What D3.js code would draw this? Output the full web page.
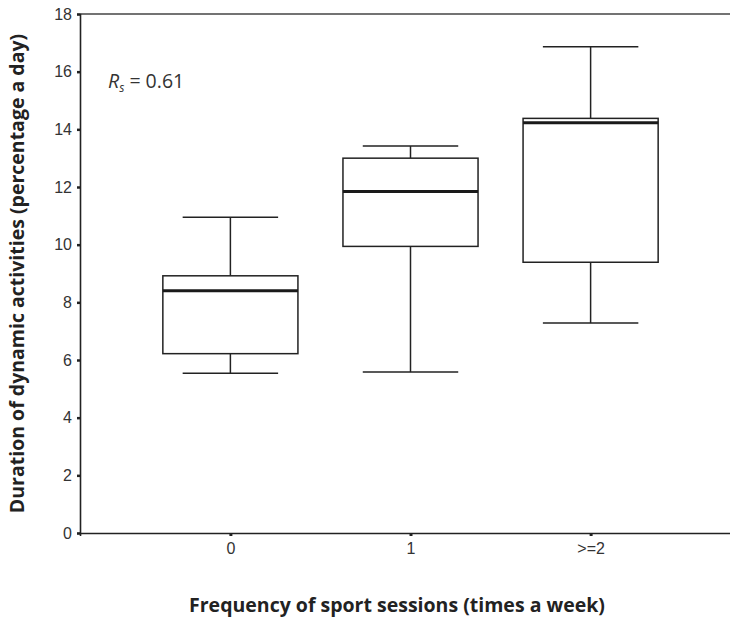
<!DOCTYPE html>
<html><head><meta charset="utf-8">
<script src="https://cdn.jsdelivr.net/npm/d3@7"></script>
<style>body{margin:0;background:#fff}svg{display:block}</style>
</head><body><div id="chart"></div>
<script>
const categories = ["0", "1", ">=2"];
const whiskerLow  = [5.54, 5.58, 7.28];
const q1          = [6.22, 9.94, 9.39];
const median      = [8.40, 11.84, 14.23];
const q3          = [8.92, 13.00, 14.38];
const whiskerHigh = [10.95, 13.42, 16.86];
const yTicks = [0, 2, 4, 6, 8, 10, 12, 14, 16, 18];
const yTitle = "Duration of dynamic activities (percentage a day)";
const xTitle = "Frequency of sport sessions (times a week)";

const W = 730, H = 618;
const m = {left: 80, top: 14, right: -11, bottom: 85};
const svg = d3.select("#chart").append("svg").attr("width", W).attr("height", H);
const iw = W - m.left - m.right, ih = H - m.top - m.bottom;
const g = svg.append("g").attr("transform", `translate(${m.left},${m.top})`);

const y = d3.scaleLinear().domain([0, 18]).range([ih, 0]);
const x = d3.scalePoint().domain(categories).range([0, iw]).padding(0.835);

const ink = "#222";
g.append("line").attr("x1", 0).attr("x2", iw).attr("y1", 0).attr("y2", 0).attr("stroke", "#444").attr("stroke-width", 1.5);

const yAxis = d3.axisLeft(y).tickValues(yTicks).tickSize(3).tickPadding(5).tickFormat(d3.format("d"));
const ya = g.append("g").call(yAxis);
ya.select(".domain").attr("stroke", ink).attr("stroke-width", 1.6);
ya.selectAll(".tick line").attr("stroke", ink).attr("stroke-width", 2.5);
ya.selectAll("text").attr("font-family", "Liberation Sans, Arial, sans-serif").attr("font-size", 16).attr("fill", "#333");

const xAxis = d3.axisBottom(x).tickSize(3).tickPadding(7);
const xa = g.append("g").attr("transform", `translate(0,${ih})`).call(xAxis);
xa.select(".domain").attr("stroke", ink).attr("stroke-width", 1.6);
xa.selectAll(".tick line").attr("stroke", ink).attr("stroke-width", 3);
xa.selectAll("text").attr("font-family", "Liberation Sans, Arial, sans-serif").attr("font-size", 16).attr("fill", "#333");

const data = categories.map((c, i) => ({c, lo: whiskerLow[i], q1: q1[i], med: median[i], q3: q3[i], hi: whiskerHigh[i]}));
const boxW = x.step() * 0.75, capW = x.step() * 0.53;

const bx = g.selectAll(".box").data(data).join("g").attr("class", "box")
  .attr("transform", d => `translate(${x(d.c)},0)`);
bx.append("line").attr("x1", 0).attr("x2", 0).attr("y1", d => y(d.hi)).attr("y2", d => y(d.q3)).attr("stroke", ink).attr("stroke-width", 1.5);
bx.append("line").attr("x1", 0).attr("x2", 0).attr("y1", d => y(d.q1)).attr("y2", d => y(d.lo)).attr("stroke", ink).attr("stroke-width", 1.5);
bx.append("line").attr("x1", -capW/2).attr("x2", capW/2).attr("y1", d => y(d.hi)).attr("y2", d => y(d.hi)).attr("stroke", ink).attr("stroke-width", 1.5);
bx.append("line").attr("x1", -capW/2).attr("x2", capW/2).attr("y1", d => y(d.lo)).attr("y2", d => y(d.lo)).attr("stroke", ink).attr("stroke-width", 1.5);
bx.append("rect").attr("x", -boxW/2).attr("width", boxW).attr("y", d => y(d.q3)).attr("height", d => y(d.q1) - y(d.q3))
  .attr("fill", "#fff").attr("stroke", ink).attr("stroke-width", 1.5);
bx.append("line").attr("x1", -boxW/2).attr("x2", boxW/2).attr("y1", d => y(d.med)).attr("y2", d => y(d.med)).attr("stroke", "#1a1a1a").attr("stroke-width", 3);

const rt = svg.append("text").attr("x", 108).attr("y", 88).attr("font-family", "Open Sans, sans-serif").attr("font-size", 19.5).attr("fill", "#333");
rt.append("tspan").attr("font-style", "italic").text("R");
rt.append("tspan").attr("font-size", 12).attr("dy", 4).attr("font-style", "italic").text("s");
rt.append("tspan").attr("dy", -4).text(" = 0.61");

svg.append("text").attr("transform", `translate(24,${m.top + ih/2}) rotate(-90)`).attr("text-anchor", "middle")
  .attr("font-family", "Open Sans, sans-serif").attr("font-weight", "bold").attr("font-size", 19.5).attr("fill", "#222").text(yTitle);
svg.append("text").attr("x", 397).attr("y", 612).attr("text-anchor", "middle")
  .attr("font-family", "Open Sans, sans-serif").attr("font-weight", "bold").attr("font-size", 19.5).attr("fill", "#222").text(xTitle);
</script></body></html>
